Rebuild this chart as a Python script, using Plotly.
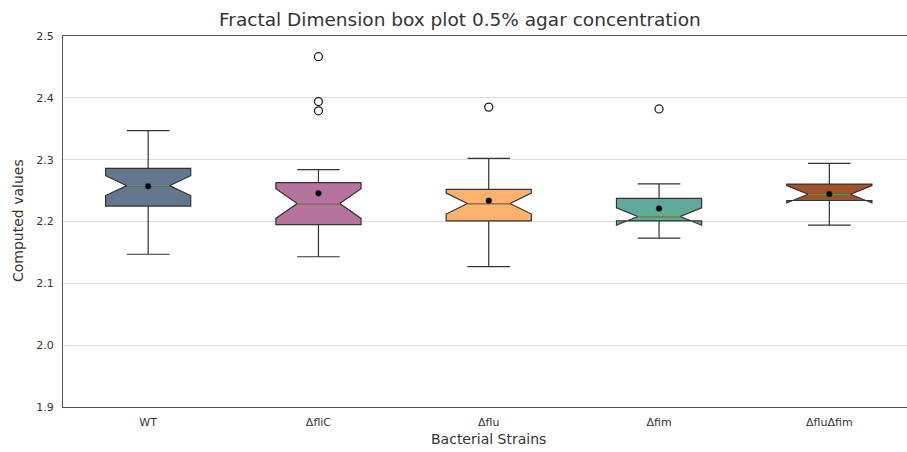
import plotly.graph_objects as go

# Summary statistics of the fractal dimension per bacterial strain
strains = ["WT", "ΔfliC", "Δflu", "Δfim", "ΔfluΔfim"]
q1 = [2.225, 2.195, 2.201, 2.201, 2.234]
median = [2.258, 2.229, 2.229, 2.208, 2.244]
q3 = [2.286, 2.263, 2.252, 2.2375, 2.2606]
lower_whisker = [2.147, 2.143, 2.127, 2.173, 2.194]
upper_whisker = [2.347, 2.284, 2.302, 2.261, 2.294]
notch_span = [0.016, 0.024, 0.017, 0.014, 0.014]
means = [2.257, 2.2455, 2.2336, 2.221, 2.2445]
outliers = [[], [2.4665, 2.394, 2.379], [2.385], [2.382], []]

fill_colors = ["#62778d", "#b5739d", "#ffb26e", "#5fab99", "#a0522d"]
median_color = "rgba(120,150,70,0.9)"
box_width = 0.5

fig = go.Figure()

for i, name in enumerate(strains):
    fig.add_trace(go.Box(
        x=[i], q1=[q1[i]], median=[median[i]], q3=[q3[i]],
        lowerfence=[lower_whisker[i]], upperfence=[upper_whisker[i]],
        notchspan=[notch_span[i]], notched=True, notchwidth=0.25,
        width=box_width, whiskerwidth=0.5, boxpoints=False,
        fillcolor=fill_colors[i], line=dict(color="#333333", width=1.2),
        name=name, showlegend=False, hoverinfo="skip",
    ))
    # thin coloured median line between the notch tips
    half = box_width / 4
    fig.add_trace(go.Scatter(
        x=[i - half, i + half], y=[median[i], median[i]], mode="lines",
        line=dict(color=median_color, width=1.3),
        showlegend=False, hoverinfo="skip",
    ))
    if outliers[i]:
        fig.add_trace(go.Scatter(
            x=[i] * len(outliers[i]), y=outliers[i], mode="markers",
            marker=dict(symbol="circle", size=8, color="white",
                        line=dict(color="#222222", width=1.3)),
            showlegend=False, hoverinfo="skip",
        ))

# mean markers
fig.add_trace(go.Scatter(
    x=list(range(len(strains))), y=means, mode="markers",
    marker=dict(symbol="circle", size=6, color="black",
                line=dict(color="#3a4a5a", width=0.5)),
    showlegend=False, hoverinfo="skip",
))

font = "DejaVu Sans, sans-serif"
fig.update_layout(
    width=907, height=452,
    margin=dict(l=63, r=0, t=36, b=45),
    paper_bgcolor="white", plot_bgcolor="white",
    font=dict(family=font, color="#333333", size=11),
    xaxis=dict(
        range=[-0.5, 4.456], tickvals=list(range(len(strains))), ticktext=strains,
        showgrid=False, zeroline=False, showline=True, linecolor="#555555",
        linewidth=1, mirror=True, ticks="outside", ticklen=5,
        tickcolor="rgba(0,0,0,0)", tickfont=dict(size=11, color="#333333"),
    ),
    yaxis=dict(
        range=[1.9, 2.5], dtick=0.1, tick0=1.9, tickformat=".1f",
        showgrid=True, gridcolor="#dddddd", gridwidth=1, zeroline=False,
        showline=True, linecolor="#555555", linewidth=1,
        ticks="outside", ticklen=6, tickcolor="rgba(0,0,0,0)",
        tickfont=dict(size=11, color="#333333"),
    ),
    annotations=[
        dict(text="Fractal Dimension box plot 0.5% agar concentration",
             x=460, y=20, showarrow=False,
             font=dict(size=18.5, color="#333333", family=font)),
        dict(text="Bacterial Strains", x=488, y=439, showarrow=False,
             font=dict(size=14, color="#333333", family=font)),
        dict(text="Computed values", x=18, y=221, textangle=-90, showarrow=False,
             font=dict(size=14, color="#333333", family=font)),
    ],
)

# place annotations in pixel coordinates
W, H = 907, 452
for a in fig.layout.annotations:
    a.xref = "paper"
    a.yref = "paper"
    px, py = a.x, a.y
    a.x = (px - 63) / (W - 63)
    a.y = 1 - (py - 36) / (H - 36 - 45)
    a.xanchor = "center"
    a.yanchor = "middle"

fig.write_html("out.html")
